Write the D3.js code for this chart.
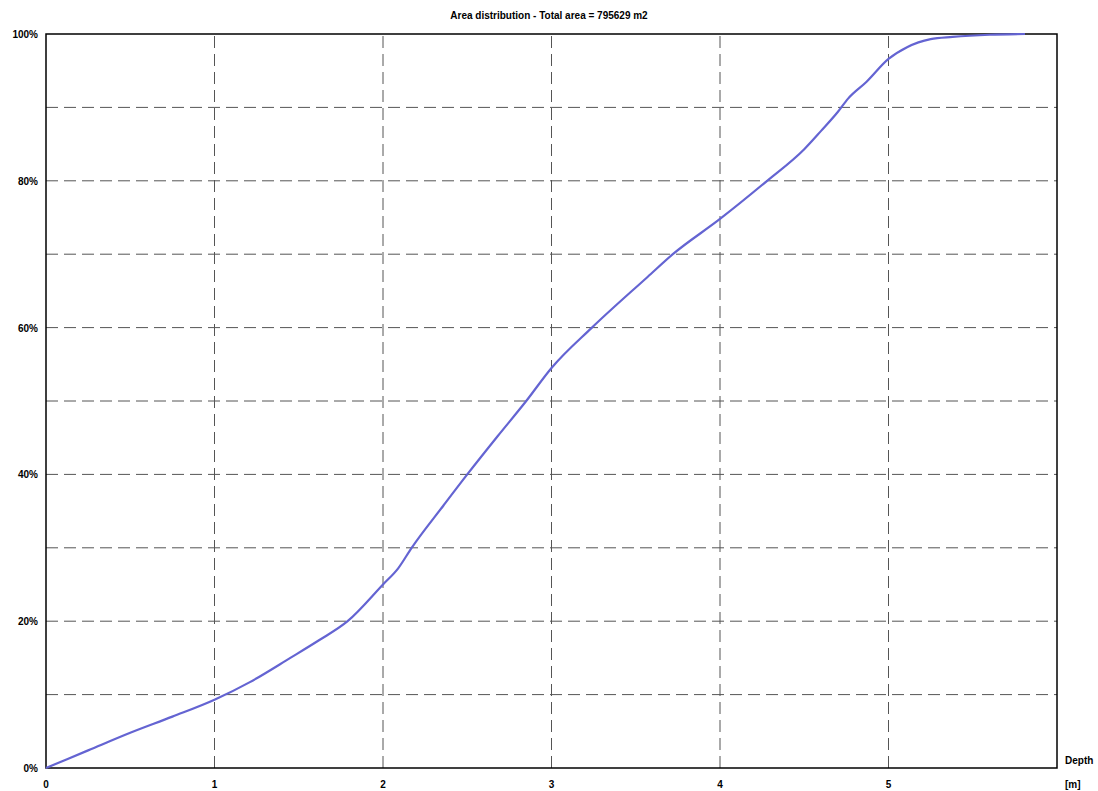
<!DOCTYPE html>
<html><head><meta charset="utf-8">
<script src="https://cdn.jsdelivr.net/npm/d3@7"></script>
<style>body{margin:0;background:#fff;}svg{display:block;}</style>
</head><body>
<svg id="chart" width="1098" height="791"></svg>
<script>
const titleText = "Area distribution - Total area = 795629 m2";
const xTicks = [0, 1, 2, 3, 4, 5];
const yTicks = [0, 10, 20, 30, 40, 50, 60, 70, 80, 90, 100];
const yLabelTicks = [0, 20, 40, 60, 80, 100];
const depth   = [0, 0.25, 0.5, 0.75, 1.0, 1.21, 1.45, 1.62, 1.79, 2.0, 2.09, 2.17, 2.36, 2.5, 2.68, 2.85, 3.0, 3.24, 3.57, 3.72, 4.0, 4.28, 4.5, 4.6, 4.7, 4.76, 4.87, 5.0, 5.11, 5.25, 5.38, 5.6, 5.81];
const percent = [0, 2.4, 4.8, 7.0, 9.3, 11.7, 15.0, 17.4, 20.0, 25.0, 27.2, 30.0, 35.8, 40.0, 45.2, 50.0, 54.5, 60.0, 66.9, 70.0, 74.8, 80.0, 84.3, 86.8, 89.4, 91.2, 93.5, 96.6, 98.2, 99.3, 99.6, 99.9, 100];

const svg = d3.select("#chart");
const L = 46, R = 1057, T = 34, B = 768;
const x = d3.scaleLinear().domain([0, 6]).range([L, R]);
const y = d3.scaleLinear().domain([0, 100]).range([B, T]);
const font = "'Liberation Sans', Arial, sans-serif";

// grid
svg.append("g").selectAll("line").data(yTicks.filter(d => d > 0 && d < 100)).join("line")
  .attr("x1", L).attr("x2", R).attr("y1", d => y(d)).attr("y2", d => y(d))
  .attr("stroke", "#555").attr("stroke-width", 1).attr("stroke-dasharray", "12,6");
svg.append("g").selectAll("line").data(xTicks.filter(d => d > 0)).join("line")
  .attr("x1", d => x(d)).attr("x2", d => x(d)).attr("y1", B).attr("y2", T)
  .attr("stroke", "#555").attr("stroke-width", 1).attr("stroke-dasharray", "12,6");

// frame
svg.append("rect").attr("x", L).attr("y", T).attr("width", R - L).attr("height", B - T)
  .attr("fill", "none").attr("stroke", "#000").attr("stroke-width", 1.5);

// curve
const pts = depth.map((d, i) => [d, percent[i]]);
svg.append("path").datum(pts)
  .attr("d", d3.line().x(d => x(d[0])).y(d => y(d[1])).curve(d3.curveMonotoneX))
  .attr("fill", "none").attr("stroke", "#6464d2").attr("stroke-width", 2.2);

// y labels
svg.append("g").selectAll("text").data(yLabelTicks).join("text")
  .attr("x", 38).attr("y", d => y(d) + 4).attr("text-anchor", "end")
  .attr("font-family", font).attr("font-weight", "bold").attr("font-size", 10)
  .text(d => d + "%");

// x labels
svg.append("g").selectAll("text").data(xTicks).join("text")
  .attr("x", d => x(d)).attr("y", 788).attr("text-anchor", "middle")
  .attr("font-family", font).attr("font-weight", "bold").attr("font-size", 10)
  .text(d => d);

svg.append("text").attr("x", 1065).attr("y", 764).attr("font-family", font)
  .attr("font-weight", "bold").attr("font-size", 10).text("Depth");
svg.append("text").attr("x", 1065).attr("y", 788).attr("font-family", font)
  .attr("font-weight", "bold").attr("font-size", 10).text("[m]");

svg.append("text").attr("x", 549).attr("y", 19).attr("text-anchor", "middle")
  .attr("font-family", font).attr("font-weight", "bold").attr("font-size", 10)
  .text(titleText);
</script>
</body></html>
